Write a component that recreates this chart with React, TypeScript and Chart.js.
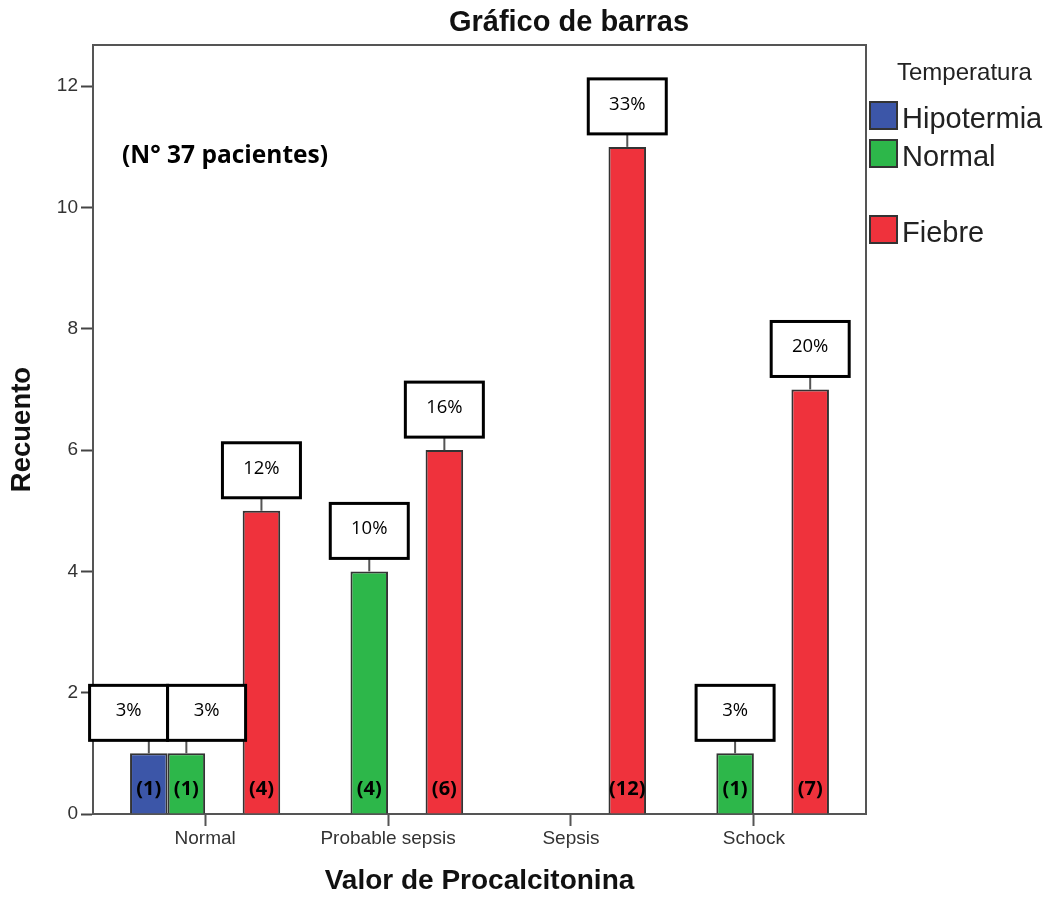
import React, { useEffect, useRef } from 'react';
import { Chart, registerables } from 'chart.js';

Chart.register(...registerables);

// ---- data ----
const TITLE = 'Gráfico de barras';
const NOTE = '(N° 37 pacientes)';
const X_TITLE = 'Valor de Procalcitonina';
const Y_TITLE = 'Recuento';
const LEGEND_TITLE = 'Temperatura';

const CATEGORIES = ['Normal', 'Probable sepsis', 'Sepsis', 'Schock'];
const SERIES_NAMES = ['Hipotermia', 'Normal', '', 'Fiebre'];

const HIPOTERMIA = [1, 0, 0, 0];
const NORMAL = [1, 4, 0, 1];
const ERASED_GROUP: (number | null)[] = [null, null, null, null]; // empty group slot (removed in original)
const FIEBRE = [5, 6, 11, 7];

const HIPOTERMIA_COUNTS = ['(1)', '', '', ''];
const NORMAL_COUNTS = ['(1)', '(4)', '', '(1)'];
const FIEBRE_COUNTS = ['(4)', '(6)', '(12)', '(7)'];

const HIPOTERMIA_PCT = ['3%', '', '', ''];
const NORMAL_PCT = ['3%', '10%', '', '3%'];
const FIEBRE_PCT = ['12%', '16%', '33%', '20%'];

const SERIES_VALUES = [HIPOTERMIA, NORMAL, ERASED_GROUP, FIEBRE];
const SERIES_COUNTS = [HIPOTERMIA_COUNTS, NORMAL_COUNTS, null, FIEBRE_COUNTS];
const SERIES_PCT = [HIPOTERMIA_PCT, NORMAL_PCT, null, FIEBRE_PCT];
const COLORS = ['#3c56a8', '#2db74a', 'rgba(0,0,0,0)', '#ef323c'];

const Y_MAX = 12.68;
const Y_STEP = 2;
const X_MIN = -0.613;
const X_MAX = 3.613;

const SANS = '"Liberation Sans", Arial, sans-serif';
const LABEL_FONT = '"Open Sans", sans-serif';

const BOX_W = 78;
const BOX_H = 55;
const BOX_GAP = 13;

const overlayPlugin = {
  id: 'overlay',
  afterDraw(chart: any) {
    const { ctx, chartArea } = chart;
    ctx.save();
    // frame (top and right edges)
    ctx.strokeStyle = '#555';
    ctx.lineWidth = 2;
    ctx.beginPath();
    ctx.moveTo(chartArea.left, chartArea.top);
    ctx.lineTo(chartArea.right, chartArea.top);
    ctx.lineTo(chartArea.right, chartArea.bottom);
    ctx.stroke();

    // title
    ctx.fillStyle = '#111';
    ctx.font = `bold 29px ${SANS}`;
    ctx.textAlign = 'center';
    ctx.textBaseline = 'middle';
    ctx.fillText(TITLE, 569, 23);

    // note
    ctx.font = `bold 24.5px ${LABEL_FONT}`;
    ctx.textAlign = 'left';
    ctx.fillStyle = '#000';
    ctx.fillText(NOTE, 122, 156);

    // legend
    const lx = chartArea.right + 4;
    ctx.font = `24px ${SANS}`;
    ctx.fillStyle = '#222';
    ctx.textBaseline = 'alphabetic';
    ctx.fillText(LEGEND_TITLE, lx + 27, 80);
    ctx.font = `29px ${SANS}`;
    SERIES_NAMES.forEach((name, i) => {
      if (!name) return;
      const top = 102 + i * 38;
      ctx.fillStyle = COLORS[i];
      ctx.fillRect(lx, top, 27, 27);
      ctx.strokeStyle = '#333';
      ctx.lineWidth = 2;
      ctx.strokeRect(lx, top, 27, 27);
      ctx.fillStyle = '#222';
      ctx.fillText(name, lx + 32, top + 26);
    });
    ctx.restore();
  },
  afterDatasetsDraw(chart: any) {
    const { ctx } = chart;
    ctx.save();
    const boxes: any[] = [];
    chart.data.datasets.forEach((ds: any, di: number) => {
      const counts = SERIES_COUNTS[di];
      const pcts = SERIES_PCT[di];
      if (!counts || !pcts) return;
      const meta = chart.getDatasetMeta(di);
      meta.data.forEach((el: any, i: number) => {
        const v = SERIES_VALUES[di][i];
        if (!v) return;
        const { x, y, base } = el.getProps(['x', 'y', 'base'], true);
        if (counts[i]) {
          ctx.font = `bold 20px ${LABEL_FONT}`;
          ctx.fillStyle = '#000';
          ctx.textAlign = 'center';
          ctx.textBaseline = 'middle';
          ctx.fillText(counts[i], x, base - 24);
        }
        if (pcts[i]) {
          boxes.push({ cat: i, barX: x, barTop: y, cx: x, bottom: y - BOX_GAP, text: pcts[i] });
        }
      });
    });
    // push apart overlapping boxes inside a category
    boxes.sort((a, b) => a.barX - b.barX);
    for (let k = 1; k < boxes.length; k++) {
      const a = boxes[k - 1];
      const b = boxes[k];
      if (a.cat === b.cat && b.cx - a.cx < BOX_W && Math.abs(a.bottom - b.bottom) < BOX_H) {
        const mid = (a.cx + b.cx) / 2;
        a.cx = mid - BOX_W / 2;
        b.cx = mid + BOX_W / 2;
      }
    }
    boxes.forEach((bx) => {
      ctx.strokeStyle = '#555';
      ctx.lineWidth = 2;
      ctx.beginPath();
      ctx.moveTo(bx.barX, bx.barTop);
      ctx.lineTo(bx.barX, bx.bottom);
      ctx.stroke();
      const left = bx.cx - BOX_W / 2;
      const top = bx.bottom - BOX_H;
      ctx.fillStyle = '#fff';
      ctx.fillRect(left, top, BOX_W, BOX_H);
      ctx.strokeStyle = '#000';
      ctx.lineWidth = 3;
      ctx.strokeRect(left, top, BOX_W, BOX_H);
      ctx.fillStyle = '#000';
      ctx.font = `18.5px ${LABEL_FONT}`;
      ctx.textAlign = 'center';
      ctx.textBaseline = 'middle';
      ctx.fillText(bx.text, bx.cx, top + BOX_H / 2 - 2);
    });
    ctx.restore();
  },
};

export default function App() {
  const canvasRef = useRef<HTMLCanvasElement | null>(null);

  useEffect(() => {
    if (!canvasRef.current) return;
    const chart = new Chart(canvasRef.current, {
      type: 'bar',
      data: {
        datasets: SERIES_VALUES.map((vals, di) => ({
          label: SERIES_NAMES[di],
          data: vals.map((v, i) => ({ x: i, y: v })),
          backgroundColor: COLORS[di],
          borderColor: '#333',
          borderWidth: (c: any) => (c.raw && c.raw.y ? 2 : 0),
          borderSkipped: 'bottom',
        })) as any,
      },
      options: {
        animation: false,
        responsive: true,
        maintainAspectRatio: false,
        datasets: { bar: { categoryPercentage: 0.821, barPercentage: 1 } },
        layout: { padding: { left: 0, top: 45, right: 186, bottom: 0 } },
        plugins: {
          legend: { display: false },
          title: { display: false },
          tooltip: { enabled: false },
        },
        scales: {
          x: {
            type: 'linear',
            min: X_MIN,
            max: X_MAX,
            offset: false,
            afterFit: (s: any) => { s.height = 84; },
            afterBuildTicks: (s: any) => {
              s.ticks = s.ticks.filter((t: any) => Number.isInteger(t.value) && t.value >= 0 && t.value < CATEGORIES.length);
            },
            ticks: {
              stepSize: 1,
              includeBounds: false,
              autoSkip: false,
              maxRotation: 0,
              padding: 1,
              color: '#333',
              font: { family: SANS, size: 19 },
              callback: (v: any) => CATEGORIES[v] ?? '',
            },
            grid: { offset: false, drawOnChartArea: false, tickLength: 12, tickColor: '#555', tickWidth: 2 },
            border: { color: '#555', width: 2 },
            title: {
              display: true,
              text: X_TITLE,
              color: '#111',
              font: { family: SANS, size: 28, weight: 'bold' },
              padding: { top: 0, bottom: 0 },
            },
          },
          y: {
            min: 0,
            max: Y_MAX,
            afterFit: (s: any) => { s.width = 93; },
            ticks: {
              stepSize: Y_STEP,
              includeBounds: false,
              padding: 3,
              color: '#333',
              font: { family: SANS, size: 19 },
            },
            grid: { drawOnChartArea: false, tickLength: 12, tickColor: '#444', tickWidth: 2 },
            border: { color: '#555', width: 2 },
            title: {
              display: true,
              text: Y_TITLE,
              color: '#111',
              font: { family: SANS, size: 27.5, weight: 'bold' },
              padding: { top: 6, bottom: 0 },
            },
          },
        },
      } as any,
      plugins: [overlayPlugin],
    });
    return () => chart.destroy();
  }, []);

  return (
    <div style={{ position: 'fixed', left: 0, top: 0, width: 1052, height: 898, background: '#fff' }}>
      <canvas ref={canvasRef} />
    </div>
  );
}
